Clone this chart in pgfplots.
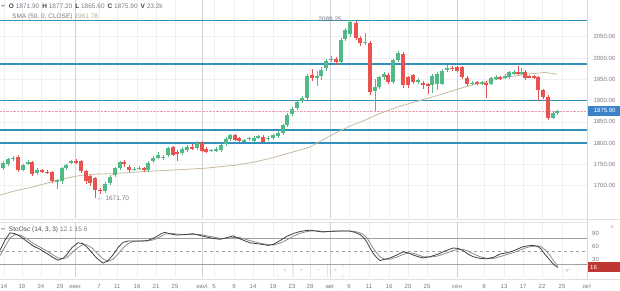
\documentclass[border=0pt]{standalone}
\usepackage{fontspec}
\setmainfont{Liberation Sans}
\newfontfamily\dejavu{DejaVu Sans}
\usepackage{pgfplots}
\pgfplotsset{compat=1.18}
\usepackage{pgfplotstable}

\definecolor{cgreen}{RGB}{83,185,135}
\definecolor{cred}{RGB}{232,83,80}
\definecolor{lvl}{RGB}{49,145,186}
\definecolor{txt}{RGB}{120,123,134}
\definecolor{gridc}{RGB}{240,240,242}
\definecolor{monthc}{RGB}{208,208,212}
\definecolor{smac}{RGB}{200,186,160}
\definecolor{pbox}{RGB}{60,130,200}
\definecolor{rbox}{RGB}{190,55,50}
\definecolor{pinkc}{RGB}{235,160,170}

\pgfplotstableread{
x o h l c
3 1741 1758 1738 1754
8 1750 1765 1746 1762
13 1762 1770 1758 1766
23 1738 1752 1734 1748
28 1752 1760 1748 1756
37 1730 1742 1726 1738
57 1710 1716 1692 1712
62 1710 1745 1705 1742
66 1742 1752 1738 1748
71 1754 1760 1750 1757
105 1688 1708 1684 1705
110 1706 1724 1702 1720
115 1724 1745 1720 1742
120 1742 1758 1738 1755
134 1738 1744 1734 1740
139 1740 1746 1736 1742
148 1737 1758 1733 1754
153 1758 1770 1754 1766
158 1766 1778 1762 1772
163 1766 1772 1760 1768
168 1772 1792 1768 1788
182 1776 1790 1772 1786
187 1784 1795 1780 1791
197 1788 1804 1784 1800
211 1782 1787 1778 1784
216 1784 1790 1780 1786
221 1784 1800 1780 1796
226 1798 1814 1794 1810
230 1810 1822 1806 1818
244 1805 1810 1802 1806
249 1810 1815 1806 1812
254 1806 1816 1802 1812
258 1814 1818 1810 1815
268 1810 1816 1806 1812
273 1812 1822 1808 1818
278 1816 1828 1812 1824
283 1824 1846 1820 1842
287 1842 1870 1838 1866
292 1868 1884 1864 1880
297 1882 1900 1878 1896
302 1898 1910 1894 1906
307 1906 1962 1902 1958
317 1952 1970 1934 1958
321 1957 1978 1948 1972
326 1976 1998 1970 1994
331 1996 2004 1990 1997
341 1990 2046 1986 2042
345 2044 2070 2040 2066
350 2056 2089.25 2050 2084
365 2036 2058 2030 2038
375 1922 1950 1875 1932
379 1932 1958 1928 1955
384 1955 1966 1948 1962
393 1944 1998 1940 1995
398 1995 2016 1990 2012
418 1946 1952 1940 1948
432 1936 1962 1918 1958
437 1940 1966 1924 1962
442 1940 1974 1936 1970
447 1972 1984 1968 1976
472 1940 1946 1936 1942
482 1941 1946 1936 1942
491 1940 1956 1936 1952
496 1952 1960 1948 1954
505 1955 1962 1950 1957
509 1955 1970 1950 1966
514 1965 1972 1960 1966
521 1964 1976 1960 1966
553 1860 1874 1856 1870
557 1871.9 1877.2 1865.6 1875.9
}\greentab

\pgfplotstableread{
x o h l c
18 1768 1772 1732 1738
32 1755 1758 1722 1727
42 1736 1740 1730 1734
47 1733 1736 1728 1731
52 1732 1735 1706 1710
76 1757 1762 1752 1755
81 1757 1760 1730 1735
86 1734 1738 1705 1710
90 1722 1726 1700 1706
95 1718 1720 1671.7 1690
100 1690 1694 1680 1688
124 1756 1760 1745 1750
129 1745 1748 1733 1737
144 1741 1745 1732 1738
173 1790 1794 1770 1773
177 1780 1784 1758 1774
192 1790 1798 1785 1788
202 1800 1804 1778 1782
206 1786 1790 1776 1780
235 1818 1822 1804 1808
239 1812 1815 1802 1806
263 1814 1818 1798 1802
312 1960 1975 1945 1952
336 1998 2002 1984 1990
356 2082 2086 2042 2048
360 2046 2052 2028 2035
370 2036 2040 1912 1920
388 1960 1964 1940 1944
403 2010 2014 1930 1936
408 1955 1958 1930 1936
413 1960 1962 1938 1943
423 1942 1946 1928 1936
428 1938 1942 1915 1936
452 1976 1982 1970 1975
457 1978 1982 1966 1970
462 1978 1982 1950 1955
467 1954 1958 1934 1938
477 1942 1946 1936 1941
486 1942 1946 1905 1936
500 1954 1958 1948 1953
518 1966 1982 1960 1964
525 1966 1972 1948 1954
529 1957 1960 1952 1956
534 1956 1960 1950 1955
538 1955 1958 1900 1924
543 1924 1928 1904 1908
548 1908 1912 1854 1860
}\redtab

\begin{document}
\begin{tikzpicture}[x=1pt,y=1pt,font=\fontsize{6.5}{7.5}\selectfont]
\useasboundingbox (0pt,0pt) rectangle (620pt,290pt);

\begin{axis}[
  at={(0pt,72pt)}, anchor=south west,
  width=587pt, height=218pt, scale only axis,
  xmin=0, xmax=587, ymin=1624.1, ymax=2136.2,
  axis line style={draw=none}, tick style={draw=none},
  xtick={4,22,41,60,99,117,137,156,175,214,234,253,273,292,310,349,369,389,408,427,484,504,523,542,562},
  xticklabels={},
  extra x ticks={75,202,330,457},
  extra x tick labels={},
  extra x tick style={grid=major, major grid style={monthc, line width=0.6pt}},
  xmajorgrids, ymajorgrids,
  major grid style={gridc, line width=0.5pt},
  ytick={1700,1750,...,2050},
  yticklabel pos=right,
  yticklabel style={font=\fontsize{6}{7}\selectfont, text=txt, anchor=west, xshift=3pt},
  /pgf/number format/fixed, /pgf/number format/fixed zerofill,
  /pgf/number format/precision=2, /pgf/number format/1000 sep={},
  /pgf/number format/assume math mode=true,
  clip=false,
]
% level lines
\addplot[lvl, line width=1.5pt, forget plot] coordinates {(0,2088) (587,2088)};
\addplot[lvl, line width=1.5pt, forget plot] coordinates {(0,1986) (587,1986)};
\addplot[lvl, line width=1.5pt, forget plot] coordinates {(0,1900) (587,1900)};
\addplot[lvl, line width=1.5pt, forget plot] coordinates {(0,1831) (587,1831)};
\addplot[lvl, line width=1.5pt, forget plot] coordinates {(0,1800) (587,1800)};
% current price line
\addplot[pinkc, line width=0.4pt, densely dotted, forget plot] coordinates {(0,1875.9) (587,1875.9)};
% SMA 50
\addplot[smac, line width=0.8pt, forget plot] coordinates {
(0,1678) (15,1688) (33,1697) (50,1708) (67,1718) (80,1724) (95,1727) (110,1728)
(130,1731) (150,1734) (175,1737) (205,1741) (235,1748) (255,1756) (270,1764)
(285,1774) (297,1782) (310,1791) (320,1804) (330,1817) (340,1829) (350,1840)
(365,1854) (380,1870) (398,1885) (415,1897) (432,1908) (450,1921) (465,1932)
(480,1941) (493,1948) (510,1956) (527,1962) (545,1966) (557,1962)};
% wicks
\addplot[draw=none, mark=none, forget plot,
  error bars/.cd, y dir=both, y explicit, error mark=none,
  error bar style={draw=cgreen, solid, line width=0.8pt}]
  table[x=x, y expr={(\thisrow{h}+\thisrow{l})/2}, y error expr={(\thisrow{h}-\thisrow{l})/2}] {\greentab};
\addplot[draw=none, mark=none, forget plot,
  error bars/.cd, y dir=both, y explicit, error mark=none,
  error bar style={draw=cred, solid, line width=0.8pt}]
  table[x=x, y expr={(\thisrow{h}+\thisrow{l})/2}, y error expr={(\thisrow{h}-\thisrow{l})/2}] {\redtab};
% bodies
\addplot[draw=none, mark=none, forget plot,
  error bars/.cd, y dir=both, y explicit, error mark=none,
  error bar style={draw=cgreen, solid, line width=3.5pt}]
  table[x=x, y expr={(\thisrow{o}+\thisrow{c})/2}, y error expr={max(abs(\thisrow{c}-\thisrow{o})/2,1.2)}] {\greentab};
\addplot[draw=none, mark=none, forget plot,
  error bars/.cd, y dir=both, y explicit, error mark=none,
  error bar style={draw=cred, solid, line width=3.5pt}]
  table[x=x, y expr={(\thisrow{o}+\thisrow{c})/2}, y error expr={max(abs(\thisrow{c}-\thisrow{o})/2,1.2)}] {\redtab};
% annotations
\node[anchor=east, text=txt, inner sep=0] at (axis cs:342,2090) {2089.25};
\node[anchor=west, text=txt, inner sep=0] at (axis cs:97,1671) {← 1671.70};
\node[anchor=west, fill=pbox, text=white, inner sep=0pt, minimum width=32pt, minimum height=10pt,
      font=\fontsize{6}{7}\selectfont] at (axis cs:588,1875.9) {\,1875.90};
\end{axis}

\begin{axis}[
  at={(0pt,13pt)}, anchor=south west,
  width=587pt, height=55pt, scale only axis,
  xmin=0, xmax=587, ymin=-10, ymax=117,
  axis line style={draw=none}, tick style={draw=none},
  xtick={4,22,41,60,99,117,137,156,175,214,234,253,273,292,310,349,369,389,408,427,484,504,523,542,562},
  xticklabels={14,19,24,29,7,11,16,21,25,5,9,14,19,23,28,6,11,16,20,25,8,13,17,22,25},
  extra x ticks={75,202,330,457,587},
  extra x tick labels={июн,июл,авг,сен,окт},
  extra x tick style={grid=major, major grid style={monthc, line width=0.6pt}},
  xmajorgrids,
  major grid style={gridc, line width=0.5pt},
  ytick=\empty,
  xticklabel style={font=\fontsize{6}{7}\selectfont, text=txt, anchor=base, yshift=-11pt},
  clip=false,
]
\addplot[gray!75, line width=0.6pt, forget plot] coordinates {(0,80) (587,80)};
\addplot[gray!75, line width=0.6pt, forget plot] coordinates {(0,20) (587,20)};
\addplot[gray!75, line width=0.6pt, dashed, forget plot] coordinates {(0,50) (587,50)};
% %D
\addplot[black!45, line width=0.8pt, forget plot] coordinates {
(0,40) (5,60) (10,80) (15,88) (20,87) (27,78) (33,68) (40,59) (47,50) (53,41) (58,34) (63,32) (67,35) (72,46) (78,58) (83,65) (87,64) (92,57) (97,45) (103,32) (108,26) (113,31) (118,43) (123,57) (128,67) (133,72) (140,73) (147,73) (152,75) (157,79) (162,85) (165,89) (171,91) (177,89) (185,88) (193,88) (200,88) (207,85) (214,82) (220,79) (227,79) (233,81) (240,81) (250,74) (260,68) (268,65) (273,64) (280,68) (287,76) (294,85) (300,91) (305,94) (310,96) (316,97) (323,95) (328,95) (333,95) (340,96) (350,96) (355,95) (360,92) (364,87) (367,80) (370,69) (373,57) (377,45) (380,36) (385,31) (390,31) (397,36) (403,42) (408,45) (413,45) (418,41) (423,37) (430,36) (437,38) (445,44) (453,51) (458,54) (463,54) (468,50) (473,44) (480,37) (487,33) (494,33) (500,37) (507,42) (513,46) (518,50) (523,55) (528,59) (533,61) (538,62) (541,60) (545,53) (550,40) (554,26) (558,15.6)};
% %K
\addplot[black!75, line width=0.8pt, forget plot] coordinates {
(0,52) (5,75) (10,92) (15,90) (20,84) (27,72) (33,62) (40,54) (47,44) (53,35) (58,29) (63,33) (67,42) (72,58) (78,69) (83,67) (87,59) (92,46) (97,33) (103,22) (108,28) (113,41) (118,58) (123,70) (128,73) (133,73) (140,73) (147,74) (152,78) (157,84) (162,91) (165,93) (171,89) (177,87) (185,88) (193,90) (200,86) (207,82) (214,79) (220,77) (227,81) (233,85) (240,78) (250,69) (260,66) (268,63) (273,65) (280,74) (287,84) (294,91) (300,95) (305,97) (310,98) (316,96) (323,94) (328,95) (333,96) (340,96) (350,96) (355,93) (360,88) (364,80) (367,70) (370,57) (373,45) (377,34) (380,28) (385,31) (390,34) (397,41) (403,48) (408,46) (413,41) (418,37) (423,34) (430,37) (437,42) (445,50) (453,57) (458,56) (463,51) (468,43) (473,37) (480,33) (487,32) (494,36) (500,43) (507,46) (513,50) (518,55) (523,60) (528,62) (533,63) (538,60) (541,55) (545,42) (550,29) (554,18) (558,12.1)};
\node[anchor=west, text=txt, inner sep=0, font=\fontsize{6}{7}\selectfont] at (axis cs:592,90) {90};
\node[anchor=west, text=txt, inner sep=0, font=\fontsize{6}{7}\selectfont] at (axis cs:592,60) {60};
\node[anchor=west, text=txt, inner sep=0, font=\fontsize{6}{7}\selectfont] at (axis cs:592,30) {30};
\node[anchor=west, fill=rbox, text=white, inner sep=0pt, minimum width=32pt, minimum height=10pt,
      font=\fontsize{6}{7}\selectfont, align=left, text width=30pt] at (axis cs:588,13) {\,16};
\end{axis}

% frame lines
\draw[gray!30, line width=0.6pt] (587.5pt,10pt) -- (587.5pt,290pt);
\draw[gray!25, line width=0.6pt] (0pt,71pt) -- (620pt,71pt);
\draw[gray!25, line width=0.6pt] (0pt,68pt) -- (587.5pt,68pt);
\draw[gray!25, line width=0.6pt] (0pt,11pt) -- (620pt,11pt);

% navigation widget (faint)
\draw[gray!20, rounded corners=1pt] (277pt,13pt) rectangle (343pt,25pt);
\draw[gray!20] (293pt,13pt) -- (293pt,25pt) (310pt,13pt) -- (310pt,25pt) (327pt,13pt) -- (327pt,25pt);
\draw[gray!20, rounded corners=1pt] (343pt,13pt) rectangle (577pt,25pt);
\node[text=gray!45, inner sep=0] at (285pt,19pt) {<};
\node[text=gray!45, inner sep=0] at (301.5pt,19pt) {+};
\node[text=gray!45, inner sep=0] at (318.5pt,19pt) {−};
\node[text=gray!45, inner sep=0] at (335pt,19pt) {>};
\node[text=gray!50, inner sep=0] at (568pt,19pt) {\dejavu ↶};
\node[text=gray!60, inner sep=0, font=\fontsize{7}{8}\selectfont] at (612pt,62pt) {×};

% headers
\node[anchor=west, inner sep=0, text=txt] at (1pt,284pt) {\textcolor{black!75}{\textbf{−}}\hspace{4pt}\textcolor{black!75}{\textbf{O}} 1871.90\hspace{3pt}\textcolor{black!75}{\textbf{H}} 1877.20\hspace{3pt}\textcolor{black!75}{\textbf{L}} 1865.60\hspace{3pt}\textcolor{black!75}{\textbf{C}} 1875.90\hspace{3pt}\textcolor{black!75}{\textbf{V}} 23.2k};
\node[anchor=west, inner sep=0, text=txt] at (12pt,273pt) {SMA (50, 0, CLOSE)\hspace{2pt}\textcolor{smac!90!black}{1961.78}};
\node[anchor=west, inner sep=0, text=black!70] at (1pt,60pt) {\textbf{−}\hspace{4pt}StoOsc (14, 3, 3)\hspace{2pt}\textcolor{txt}{12.1\hspace{2pt}15.6}};
\end{tikzpicture}
\end{document}
